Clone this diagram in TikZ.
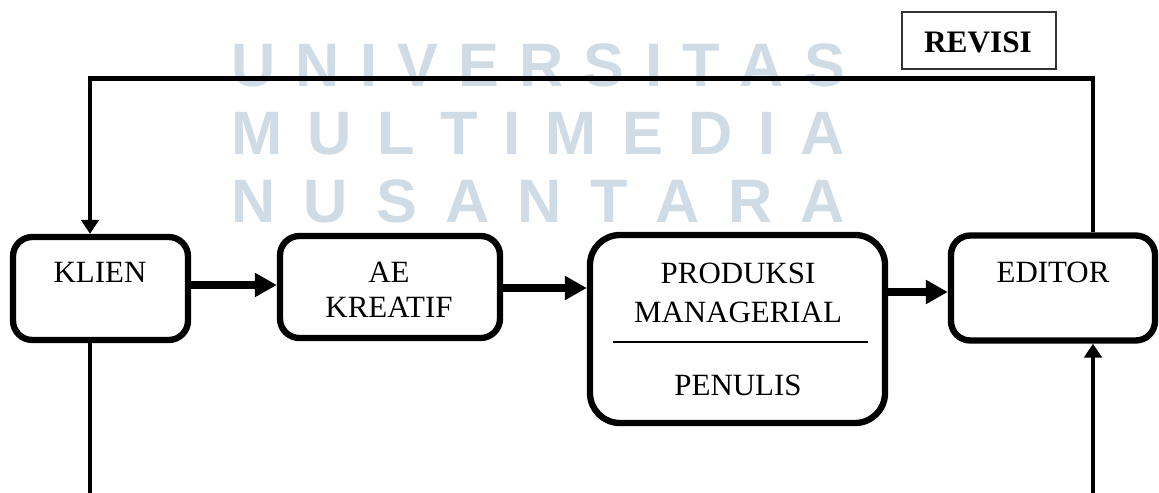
\documentclass[tikz,border=0pt]{standalone}
\usepackage{fontspec}
\setmainfont{Liberation Serif}
\newfontfamily\wmfont{Liberation Sans}
\usetikzlibrary{arrows.meta,calc}
\definecolor{wmcol}{HTML}{CFDBE5}
\tikzset{
  procbox/.style={draw=black, line width=3.6pt, rounded corners=11pt, fill=none, inner sep=0pt},
  lbl/.style={font=\fontsize{17.6}{20}\selectfont, anchor=base, inner sep=0pt},
  harrow/.style={line width=4pt, -{Triangle[length=12.5pt,width=13pt]}},
  vline/.style={line width=2.8pt},
  varrow/.style={line width=2.8pt, -{Triangle[length=8pt,width=10pt]}},
  wm/.style={font=\wmfont\bfseries\fontsize{34.9}{36}\selectfont, text=wmcol, anchor=base west, inner sep=0pt},
}
\begin{document}
\begin{tikzpicture}[x=0.02cm,y=-0.02cm]
\useasboundingbox (0,0) rectangle (1159,493);
% watermark
\node[wm] (wm1) at (231,87) {\hbox to 12.28cm{U\hfill N\hfill I\hfill V\hfill E\hfill R\hfill S\hfill I\hfill T\hfill A\hfill S}};
\node[wm] (wm2) at (231,155) {\hbox to 12.28cm{M\hfill U\hfill L\hfill T\hfill I\hfill M\hfill E\hfill D\hfill I\hfill A}};
\node[wm] (wm3) at (231,223) {\hbox to 12.28cm{N\hfill U\hfill S\hfill A\hfill N\hfill T\hfill A\hfill R\hfill A}};
% boxes
\node[procbox, minimum width=175*0.02cm, minimum height=103*0.02cm] (klien) at (100.5,288.5) {};
\node[procbox, minimum width=220*0.02cm, minimum height=102*0.02cm] (ae) at (390,287) {};
\node[procbox, rounded corners=17pt, minimum width=295*0.02cm, minimum height=188*0.02cm] (prod) at (737.5,329) {};
\node[procbox, minimum width=204*0.02cm, minimum height=105*0.02cm] (editor) at (1053,288) {};
\node[draw=black!80, line width=0.85pt, minimum width=154*0.02cm, minimum height=57*0.02cm, inner sep=0pt] (revisi) at (979,40.5) {};
% texts
\node[lbl] (tklien) at (100,282) {KLIEN};
\node[lbl] (tae1) at (389,282) {AE};
\node[lbl] (tae2) at (389,317) {KREATIF};
\node[lbl] (tp1) at (738,283) {PRODUKSI};
\node[lbl] (tp2) at (738,322) {MANAGERIAL};
\node[lbl] (tp3) at (738,395) {PENULIS};
\node[lbl] (ted) at (1053,282) {EDITOR};
\node[lbl, font=\fontsize{17.8}{20}\selectfont\bfseries] (trev) at (978,53) {REVISI};
% divider in prod box
\coordinate (d1) at (613,342);
\coordinate (d2) at (868,342);
\draw[line width=1.2pt] (d1) -- (d2);
% horizontal arrows
\draw[harrow] (klien.east |- 0,285) -- (ae.west |- 0,285);
\draw[harrow] (ae.east |- 0,288) -- (prod.west |- 0,288);
\draw[harrow] (prod.east |- 0,292) -- (editor.west |- 0,292);
% revision loop
\coordinate (t1) at (90,78.5);
\coordinate (t2) at (1093,78.5);
\coordinate (b1) at (90,493);
\coordinate (b2) at (1093,493);
\draw[varrow] (editor.north -| t2) -- (t2) -- (t1) -- (klien.north -| t1);
\draw[vline] (klien.south -| b1) -- (b1);
\draw[varrow] (b2) -- (editor.south -| b2);
\end{tikzpicture}
\end{document}
